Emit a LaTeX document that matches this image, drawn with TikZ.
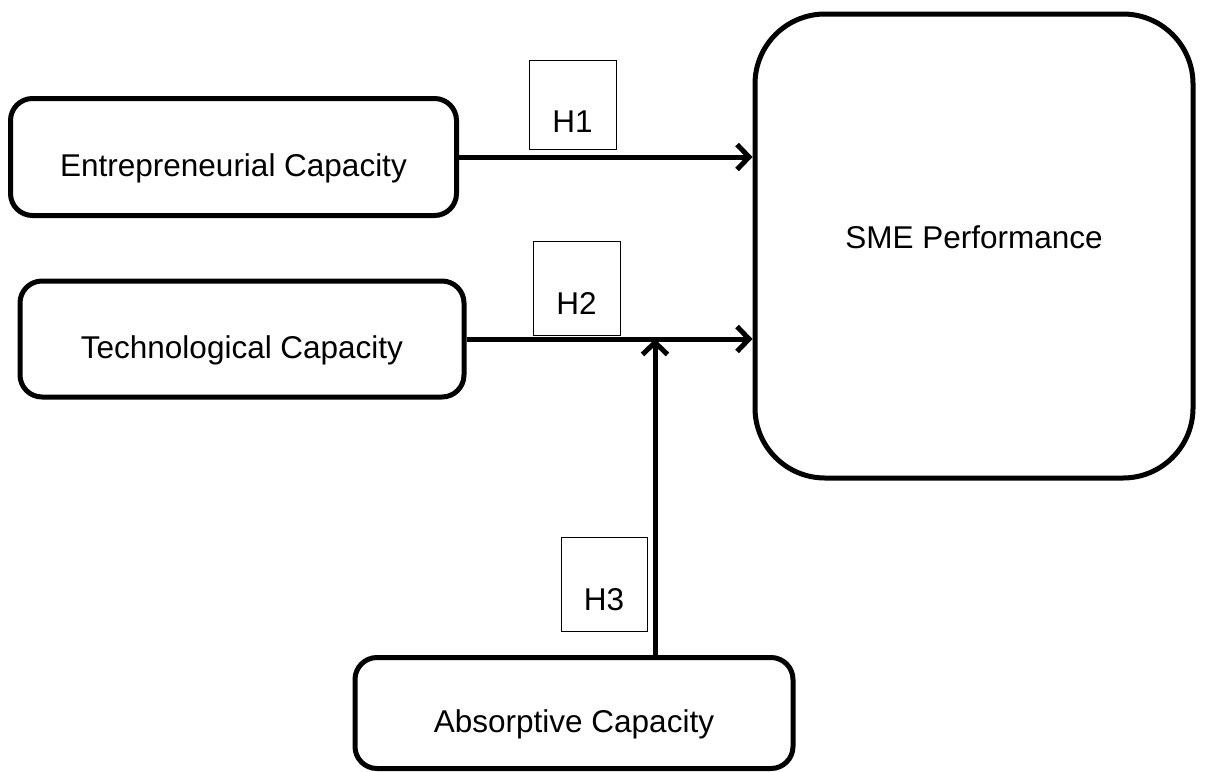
\documentclass[tikz,border=0pt]{standalone}
\usepackage{fontspec}
\setmainfont{Liberation Sans}
\usetikzlibrary{arrows.meta}
\begin{document}
\begin{tikzpicture}[x=1pt,y=-1pt,
  txt/.style={font=\fontsize{31.5}{36}\selectfont},
  box/.style={draw, line width=5pt, rounded corners=22pt, inner sep=0pt},
  hbox/.style={draw, line width=1pt, inner sep=0pt},
  conn/.style={line width=5pt, -{Straight Barb[length=12pt,width=25pt]}}]
\useasboundingbox[fill=white] (0,0) rectangle (1206,771);
% main boxes
\node[box, minimum width=446pt, minimum height=117pt,
  label={[txt,yshift=-11pt]center:Entrepreneurial Capacity}] (E) at (233.5,157) {};
\node[box, minimum width=444pt, minimum height=116pt,
  label={[txt,yshift=-11pt]center:Technological Capacity}] (T) at (242,339) {};
\node[box, rounded corners=70pt, minimum width=438pt, minimum height=464pt,
  label={[txt,yshift=9pt]center:SME Performance}] (S) at (974,246) {};
\node[box, minimum width=438pt, minimum height=111pt,
  label={[txt,yshift=-11pt]center:Absorptive Capacity}] (A) at (574,713) {};
% hypothesis boxes
\node[hbox, minimum width=87pt, minimum height=89pt,
  label={[txt,yshift=-17pt]center:H1}] (H1) at (572.5,104.5) {};
\node[hbox, minimum width=87pt, minimum height=94pt,
  label={[txt,yshift=-15pt]center:H2}] (H2) at (576.5,288) {};
\node[hbox, minimum width=86pt, minimum height=94pt,
  label={[txt,yshift=-16pt]center:H3}] (H3) at (604,584) {};
% connectors
\coordinate (j) at (655,339);
\draw[conn] (E.east) -- (E.east -| S.west);
\draw[conn] (T.east) -- (T.east -| S.west);
\draw[conn] (j |- A.north) -- (j);
\end{tikzpicture}
\end{document}
